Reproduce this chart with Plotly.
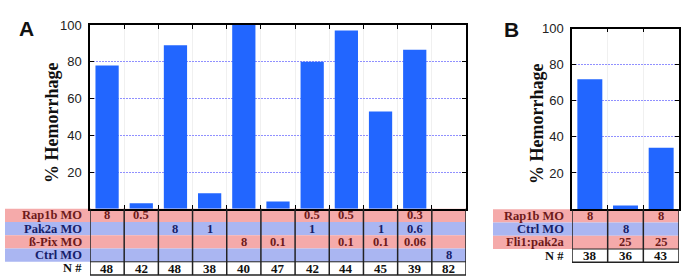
import plotly.graph_objects as go

W, H = 688, 277

# ---------------- data ----------------
cats_a = list(range(11))
hem_a = [78, 3, 89, 8.5, 100, 4, 80, 97, 53, 86.5, 0]
rap1b_a = ['8', '0.5', '', '', '', '', '0.5', '0.5', '', '0.3', '']
pak2a_a = ['', '', '8', '1', '', '', '1', '', '1', '0.6', '']
bpix_a = ['', '', '', '', '8', '0.1', '', '0.1', '0.1', '0.06', '']
ctrl_a = ['', '', '', '', '', '', '', '', '', '', '8']
n_a = ['48', '42', '48', '38', '40', '47', '42', '44', '45', '39', '82']
labels_a = ['Rap1b MO', 'Pak2a MO', 'ß-Pix MO', 'Ctrl MO']

cats_b = list(range(3))
hem_b = [72, 2, 34]
rap1b_b = ['8', '', '8']
ctrl_b = ['', '8', '']
fli1_b = ['', '25', '25']
n_b = ['38', '36', '43']
labels_b = ['Rap1b MO', 'Ctrl MO', 'Fli1:pak2a']

yticks = [20, 40, 60, 80, 100]

# ---------------- style ----------------
BAR = '#2266ff'
PINK = '#f5aaaa'
BLUE = '#aab6f2'
RED_TXT = '#6e1a1a'
BLUE_TXT = '#16206a'
SERIF = 'Liberation Serif'
SANS = 'Liberation Sans'
TFS = 12.5
GRID = '#9090ff'


def px(x):
    return x / W


def py(y):
    return 1 - y / H


fig = go.Figure()
fig.add_trace(go.Bar(x=cats_a, y=hem_a, marker_color=BAR, marker_line_width=0,
                     width=0.68, xaxis='x', yaxis='y', showlegend=False))
fig.add_trace(go.Bar(x=cats_b, y=hem_b, marker_color=BAR, marker_line_width=0,
                     width=0.7, xaxis='x2', yaxis='y2', showlegend=False))

axis_common = dict(showline=True, linecolor='black', linewidth=1.5, mirror='ticks',
                   ticks='inside', ticklen=4, tickcolor='black', zeroline=False)

fig.update_layout(
    width=W, height=H, margin=dict(l=0, r=0, t=0, b=0),
    paper_bgcolor='white', plot_bgcolor='white',
    xaxis=dict(domain=[px(90), px(466)], range=[-0.5, 10.5],
               tickvals=[k + 0.5 for k in range(10)], showticklabels=False,
               showgrid=True, gridcolor='#f0f0f0', anchor='y', **axis_common),
    yaxis=dict(domain=[py(207), py(18.5)], range=[0, 100], tickvals=yticks,
               showgrid=True, gridcolor=GRID, griddash='2px,1px', gridwidth=1,
               tickfont=dict(family=SANS, size=13, color='#222'), anchor='x',
               ticklabelstandoff=4, **axis_common),
    xaxis2=dict(domain=[px(572), px(679)], range=[-0.5, 2.5],
                tickvals=[0.5, 1.5], showticklabels=False,
                showgrid=True, gridcolor='#f0f0f0', anchor='y2', **axis_common),
    yaxis2=dict(domain=[py(207.3), py(22.3)], range=[0, 100], tickvals=yticks,
                showgrid=True, gridcolor=GRID, griddash='2px,1px', gridwidth=1,
                tickfont=dict(family=SANS, size=13, color='#222'), anchor='x2',
                ticklabelstandoff=4, **axis_common),
)

shapes = []
annotations = []


def table(labels, rows, nvals, xref, ncat, lab_x0, lab_x1, right_px, top, rh):
    for i, (label, vals) in enumerate(zip(labels, rows)):
        y0 = top + i * rh
        y1 = y0 + rh
        col = PINK if i % 2 == 0 else BLUE
        tcol = RED_TXT if i % 2 == 0 else BLUE_TXT
        shapes.append(dict(type='rect', xref='paper', yref='paper', x0=px(lab_x0), x1=px(right_px),
                           y0=py(y1), y1=py(y0), fillcolor=col, line_width=0, layer='below'))
        annotations.append(dict(text='<b>%s</b>' % label, xref='paper', yref='paper', x=px(lab_x1 - 6),
                                y=py((y0 + y1) / 2), xanchor='right', yanchor='middle', showarrow=False,
                                font=dict(family=SERIF, size=TFS, color=tcol)))
        for k, v in enumerate(vals):
            if v:
                annotations.append(dict(text='<b>%s</b>' % v, xref=xref, yref='paper', x=k,
                                        y=py((y0 + y1) / 2), xanchor='center', yanchor='middle',
                                        showarrow=False, font=dict(family=SERIF, size=TFS, color=tcol)))
    ny0 = top + len(rows) * rh
    ny1 = ny0 + rh
    annotations.append(dict(text='<b>N #</b>', xref='paper', yref='paper', x=px(lab_x1 - 6), y=py((ny0 + ny1) / 2),
                            xanchor='right', yanchor='middle', showarrow=False,
                            font=dict(family=SERIF, size=TFS, color='#111')))
    for k, v in enumerate(nvals):
        annotations.append(dict(text='<b>%s</b>' % v, xref=xref, yref='paper', x=k, y=py((ny0 + ny1) / 2),
                                xanchor='center', yanchor='middle', showarrow=False,
                                font=dict(family=SERIF, size=13, color='#111')))
    for k in range(ncat + 1):
        shapes.append(dict(type='line', xref=xref, yref='paper', x0=k - 0.5, x1=k - 0.5,
                           y0=py(ny1), y1=py(top), line=dict(color='#222', width=1.5)))
    shapes.append(dict(type='line', xref=xref, yref='paper', x0=-0.5, x1=ncat - 0.5,
                       y0=py(ny1), y1=py(ny1), line=dict(color='#222', width=1.5)))
    shapes.append(dict(type='line', xref=xref, yref='paper', x0=-0.5, x1=ncat - 0.5,
                       y0=py(ny0), y1=py(ny0), line=dict(color='#222', width=1)))


table(labels_a, [rap1b_a, pak2a_a, bpix_a, ctrl_a], n_a, 'x', len(cats_a), 5, 90, 466, 207, 13.6)
table(labels_b, [rap1b_b, ctrl_b, fli1_b], n_b, 'x2', len(cats_b), 493, 572, 679, 207.5, 13.6)

for xc, yc in [(52, 119), (537, 120)]:
    annotations.append(dict(text='<b>% Hemorrhage</b>', xref='paper', yref='paper', x=px(xc), y=py(yc),
                            textangle=-90, showarrow=False, xanchor='center', yanchor='middle',
                            font=dict(family=SERIF, size=18, color='#111')))
annotations.append(dict(text='<b>A</b>', xref='paper', yref='paper', x=px(26), y=py(22),
                        showarrow=False, xanchor='center', yanchor='middle',
                        font=dict(family=SANS, size=21, color='#111')))
annotations.append(dict(text='<b>B</b>', xref='paper', yref='paper', x=px(511), y=py(23),
                        showarrow=False, xanchor='center', yanchor='middle',
                        font=dict(family=SANS, size=21, color='#111')))

fig.update_layout(shapes=shapes, annotations=annotations)
fig.write_html('out.html', config={'displayModeBar': False},
               post_script="document.body.style.margin='0';document.body.style.padding='0';")
